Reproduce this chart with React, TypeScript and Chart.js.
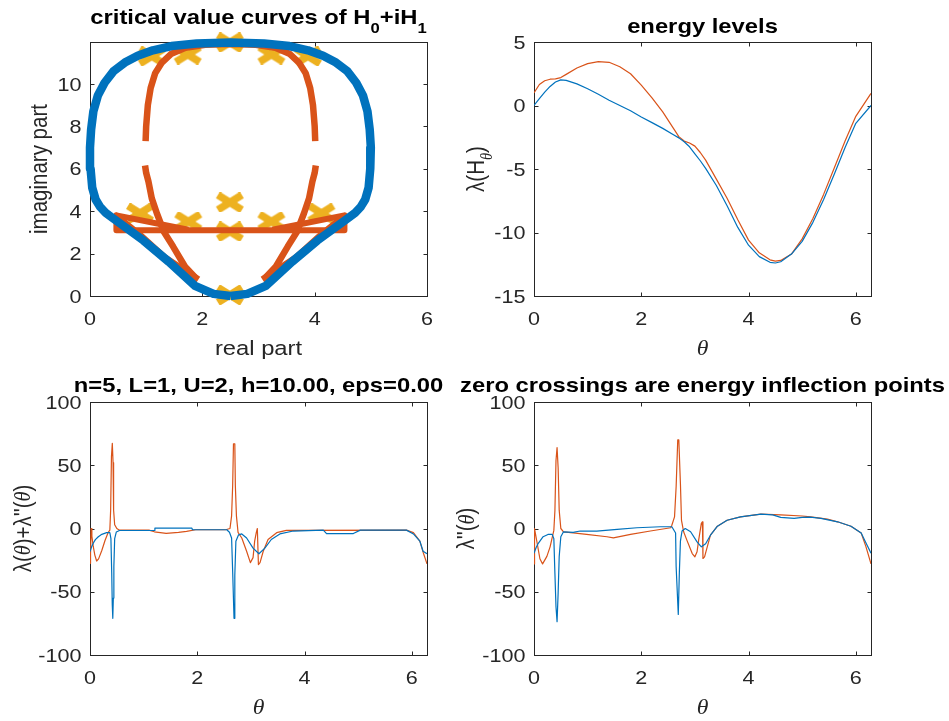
import React, { useEffect, useRef } from 'react';
import { Chart, registerables } from 'chart.js';

Chart.register(...registerables);

const W = 949;
const H = 721;
const SX = 1.16; // horizontal stretch of the reference's text
const SANS = '"Liberation Sans", Arial, Helvetica, sans-serif';
const SERIF = '"Liberation Serif", "Times New Roman", serif';
const BLUE = '#0072BD';
const RED = '#D95319';
const YELLOW = '#EDB120';
const AXIS = '#262626';
const TICK = 4;

// ---------- Panel 1: critical value curves ----------
const blueRe = [2.50, 2.20, 1.87, 1.40, 0.95, 0.65, 0.40, 0.28, 0.18, 0.10, 0.04, 0.01, 0.00, 0.02, 0.06, 0.14, 0.26, 0.42, 0.62, 0.85, 1.12, 1.45, 1.90, 2.50, 3.10, 3.55, 3.88, 4.15, 4.38, 4.58, 4.74, 4.86, 4.94, 4.98, 5.00, 4.99, 4.96, 4.90, 4.82, 4.72, 4.60, 4.35, 4.05, 3.60, 3.13, 2.80, 2.50];
const blueIm = [0.00, 0.10, 0.48, 1.62, 2.62, 3.20, 3.68, 3.92, 4.20, 4.55, 5.10, 6.00, 7.00, 7.85, 8.70, 9.45, 10.05, 10.60, 11.00, 11.32, 11.58, 11.78, 11.90, 11.95, 11.90, 11.78, 11.58, 11.32, 11.00, 10.60, 10.05, 9.45, 8.70, 7.85, 7.00, 6.00, 5.10, 4.55, 4.20, 3.92, 3.68, 3.20, 2.62, 1.62, 0.48, 0.10, 0.00];

const redArchRe = [0.99, 1.00, 1.03, 1.08, 1.16, 1.28, 1.45, 1.70, 2.05, 2.50, 2.95, 3.30, 3.55, 3.72, 3.84, 3.92, 3.97, 4.00, 4.01];
const redArchIm = [7.30, 8.00, 9.00, 9.80, 10.50, 11.00, 11.42, 11.70, 11.84, 11.88, 11.84, 11.70, 11.42, 11.00, 10.50, 9.80, 9.00, 8.00, 7.30];
const redLowLRe = [0.98, 1.00, 1.04, 1.10, 1.19, 1.32, 1.48, 1.69, 1.90];
const redLowRRe = [4.02, 4.00, 3.96, 3.90, 3.81, 3.68, 3.52, 3.31, 3.10];
const redLowIm = [6.15, 5.80, 5.40, 4.60, 3.90, 3.00, 2.33, 1.39, 0.80];
const redDiagLRe = [0.47, 0.90, 1.34, 1.93];
const redDiagRRe = [4.53, 4.10, 3.66, 3.07];
const redDiagIm = [3.78, 2.85, 1.80, 0.78];
const redBarRe = [1.75, 0.47, 0.47, 4.53, 4.53, 3.25];
const redBarIm = [3.12, 3.80, 3.10, 3.10, 3.80, 3.12];

const markRe = [1.10, 1.74, 2.49, 3.23, 3.88, 0.89, 1.75, 2.49, 2.49, 3.23, 4.12, 2.49];
const markIm = [11.30, 11.38, 11.95, 11.38, 11.30, 3.90, 3.51, 4.41, 3.04, 3.51, 3.90, 0.05];

// ---------- Panel 2: energy levels ----------
const thetaE = [0, 0.1, 0.2, 0.3, 0.4, 0.5, 0.6, 0.8, 1.0, 1.2, 1.4, 1.6, 1.8, 2.0, 2.2, 2.4, 2.6, 2.7, 2.8, 2.9, 3.0, 3.1, 3.2, 3.4, 3.6, 3.8, 4.0, 4.2, 4.4, 4.5, 4.6, 4.8, 5.0, 5.2, 5.4, 5.6, 5.8, 6.0, 6.2832];
const level1 = [0.0, 0.55, 1.05, 1.5, 1.85, 2.02, 1.98, 1.7, 1.32, 0.88, 0.42, 0.0, -0.42, -0.9, -1.35, -1.8, -2.3, -2.55, -2.85, -3.25, -3.8, -4.35, -4.95, -6.3, -7.9, -9.6, -11.0, -11.9, -12.35, -12.4, -12.3, -11.7, -10.7, -9.2, -7.4, -5.4, -3.3, -1.4, 0.0];
const level2 = [1.0, 1.65, 1.95, 2.07, 2.1, 2.2, 2.45, 2.95, 3.3, 3.45, 3.4, 3.05, 2.5, 1.6, 0.6, -0.5, -1.8, -2.45, -2.8, -2.95, -3.2, -3.7, -4.3, -5.8, -7.3, -9.0, -10.6, -11.6, -12.15, -12.25, -12.2, -11.7, -10.5, -8.9, -7.0, -4.9, -2.8, -0.85, 0.95];

// ---------- Panel 3: lambda + lambda'' ----------
const t3Blue = [0.00, 0.03, 0.06, 0.10, 0.155, 0.22, 0.31, 0.37, 0.39, 0.405, 0.415, 0.425, 0.435, 0.445, 0.46, 0.49, 0.55, 1.20, 1.21, 1.90, 1.91, 2.55, 2.60, 2.64, 2.66, 2.685, 2.70, 2.72, 2.77, 2.83, 2.92, 3.04, 3.15, 3.26, 3.38, 3.54, 3.79, 4.35, 4.41, 4.91, 5.04, 5.90, 6.03, 6.15, 6.21, 6.2832];
const v3Blue = [-18.3, -14.5, -11.7, -8.8, -6.5, -4.6, -3.3, -3.3, -8, -35, -60, -71, -55, -30, -8, -2.8, -1.6, -1.6, 0.3, 0.3, -1.0, -1.0, -3.0, -7.5, -34, -71, -37, -10, -5, -4.3, -7.5, -15.5, -20, -15.5, -8.7, -4.3, -2, -1.3, -4, -4, -1.3, -1.3, -4.3, -10, -18, -20];
const t3Red = [0.00, 0.01, 0.02, 0.035, 0.06, 0.09, 0.124, 0.16, 0.22, 0.28, 0.34, 0.37, 0.385, 0.40, 0.416, 0.43, 0.44, 0.46, 0.50, 0.55, 1.10, 1.20, 1.42, 1.65, 1.80, 1.97, 2.53, 2.61, 2.64, 2.66, 2.675, 2.70, 2.71, 2.73, 2.76, 2.83, 2.92, 2.99, 3.04, 3.07, 3.10, 3.12, 3.14, 3.17, 3.23, 3.32, 3.48, 3.66, 5.90, 6.03, 6.15, 6.22, 6.2832];
const v3Red = [-27.5, -20, 0, -6, -14, -21, -25.7, -24, -17.4, -9.5, -3, -1.3, 14.6, 56.8, 67.3, 52, 14.6, 3, 0, -1.3, -1.3, -2.6, -3.8, -3, -2.3, -1.0, -1.0, 0, 10, 34, 67, 67, 34, 10, -3, -7.5, -18, -27, -23, -10, -3.3, 0, -28.5, -27, -18, -8.7, -3.3, -1.5, -1.3, -3.3, -10, -20, -28];

// ---------- Panel 4: lambda'' ----------
const t4Blue = [0, 0.04, 0.08, 0.17, 0.26, 0.34, 0.37, 0.39, 0.41, 0.43, 0.45, 0.47, 0.50, 0.55, 0.73, 0.86, 1.17, 1.55, 1.92, 2.36, 2.57, 2.64, 2.65, 2.69, 2.71, 2.73, 2.76, 2.82, 2.92, 3.04, 3.12, 3.20, 3.29, 3.42, 3.60, 3.85, 4.23, 4.45, 4.60, 4.85, 5.00, 5.15, 5.35, 5.66, 5.91, 6.10, 6.19, 6.2832];
const v4Blue = [-19.6, -15, -11.7, -6.5, -4.7, -4.7, -8, -35.6, -61.8, -73.7, -51, -22, -6.5, -2.6, -3, -2, -2, -0.7, 0.6, 1.4, 1.4, -3.6, -30, -68, -35, -10, -2, 0, -2.6, -10.6, -14.5, -12, -5.3, 1.8, 6.5, 9.2, 11.3, 10.8, 8.8, 8.0, 8.8, 9.0, 8.0, 5.3, 1.8, -3.6, -11.5, -19.5];
const t4Red = [0, 0.01, 0.05, 0.11, 0.16, 0.24, 0.30, 0.37, 0.39, 0.41, 0.43, 0.45, 0.47, 0.50, 0.55, 0.73, 0.98, 1.36, 1.48, 1.80, 2.17, 2.55, 2.57, 2.62, 2.65, 2.68, 2.70, 2.73, 2.75, 2.79, 2.85, 2.95, 3.00, 3.04, 3.07, 3.12, 3.14, 3.15, 3.18, 3.23, 3.29, 3.42, 3.60, 3.85, 4.23, 4.60, 5.00, 5.16, 5.47, 5.66, 5.91, 6.10, 6.19, 6.2832];
const v4Red = [-28, 0, -9.5, -23.9, -28, -22, -14.5, -1.5, 14.3, 53.7, 64, 48, 14.3, 0, -2.6, -3.5, -4.7, -6.5, -7.4, -4.7, -2.0, 0.6, 2.6, 9.2, 33, 70, 70, 35.6, 6.5, -2.6, -9.2, -19.8, -22.4, -18.4, -9.2, 4, 5.3, -23.7, -22.4, -14.5, -5.3, 1.8, 6.5, 9.2, 11.3, 10.8, 9.9, 9.2, 7.4, 5.3, 1.8, -3.6, -14.5, -28];

// ---------- ticks ----------
const ticksX1 = [0, 2, 4, 6];
const ticksY1 = [0, 2, 4, 6, 8, 10];
const ticksTheta = [0, 2, 4, 6];
const ticksY2 = [-15, -10, -5, 0, 5];
const ticksY3 = [-100, -50, 0, 50, 100];

type Seg = { t: string; sub?: boolean; it?: boolean };

const pts = (xs: number[], ys: number[]) => xs.map((x, i) => ({ x, y: ys[i] }));

function segFont(s: Seg, size: number, bold: boolean) {
  const sz = s.sub ? size * 0.7 : size;
  if (s.it) return `italic ${bold ? 'bold ' : ''}${sz}px ${SERIF}`;
  return `${bold ? 'bold ' : ''}${sz}px ${SANS}`;
}

function drawRich(ctx: CanvasRenderingContext2D, segs: Seg[], x: number, y: number, size: number, bold: boolean, align: string, rotate: boolean, color: string) {
  ctx.save();
  ctx.translate(x, y);
  if (rotate) {
    ctx.rotate(-Math.PI / 2);
    ctx.scale(1, SX);
  } else {
    ctx.scale(SX, 1);
  }
  ctx.fillStyle = color;
  ctx.textAlign = 'left';
  ctx.textBaseline = rotate ? 'middle' : 'alphabetic';
  let total = 0;
  const widths = segs.map((s) => {
    ctx.font = segFont(s, size, bold);
    const w = ctx.measureText(s.t).width;
    total += w;
    return w;
  });
  let cx = align === 'center' ? -total / 2 : align === 'right' ? -total : 0;
  segs.forEach((s, i) => {
    ctx.font = segFont(s, size, bold);
    ctx.fillText(s.t, cx, s.sub ? size * 0.45 : 0);
    cx += widths[i];
  });
  ctx.restore();
}

interface PanelCfg {
  pad: { left: number; top: number; right: number; bottom: number };
  xMin: number; xMax: number; yMin: number; yMax: number;
  xTicks: number[]; yTicks: number[];
  title: Seg[]; titleY: number;
  xLabel: Seg[]; yLabel: Seg[]; yLabelX: number;
  datasets: any[];
}

function axesPlugin(cfg: PanelCfg) {
  return {
    id: 'matlabAxes',
    beforeDatasetsDraw(chart: any) {
      const ctx = chart.ctx as CanvasRenderingContext2D;
      const a = chart.chartArea;
      const xs = chart.scales.x;
      const ys = chart.scales.y;
      const L = Math.round(a.left) + 0.5;
      const R = Math.round(a.right) + 0.5;
      const T = Math.round(a.top) + 0.5;
      const B = Math.round(a.bottom) + 0.5;
      ctx.save();
      ctx.strokeStyle = AXIS;
      ctx.lineWidth = 1;
      ctx.strokeRect(L, T, R - L, B - T);
      ctx.beginPath();
      cfg.xTicks.forEach((v) => {
        const p = Math.round(xs.getPixelForValue(v)) + 0.5;
        ctx.moveTo(p, B); ctx.lineTo(p, B - TICK);
        ctx.moveTo(p, T); ctx.lineTo(p, T + TICK);
      });
      cfg.yTicks.forEach((v) => {
        const p = Math.round(ys.getPixelForValue(v)) + 0.5;
        ctx.moveTo(L, p); ctx.lineTo(L + TICK, p);
        ctx.moveTo(R, p); ctx.lineTo(R - TICK, p);
      });
      ctx.stroke();
      ctx.restore();
    },
    afterDraw(chart: any) {
      const ctx = chart.ctx as CanvasRenderingContext2D;
      const a = chart.chartArea;
      const xs = chart.scales.x;
      const ys = chart.scales.y;
      const tickSize = 18.6;
      const labelSize = 20.5;
      cfg.xTicks.forEach((v) => {
        drawRich(ctx, [{ t: String(v) }], xs.getPixelForValue(v), a.bottom + 28.5, tickSize, false, 'center', false, AXIS);
      });
      cfg.yTicks.forEach((v) => {
        drawRich(ctx, [{ t: String(v) }], a.left - 8.5, ys.getPixelForValue(v) + 6.7, tickSize, false, 'right', false, AXIS);
      });
      const cxm = (a.left + a.right) / 2;
      const cym = (a.top + a.bottom) / 2;
      drawRich(ctx, cfg.xLabel, cxm, a.bottom + 58.5, labelSize, false, 'center', false, AXIS);
      drawRich(ctx, cfg.yLabel, cfg.yLabelX, cym, labelSize, false, 'center', true, AXIS);
      drawRich(ctx, cfg.title, cxm, cfg.titleY, labelSize, true, 'center', false, '#000000');
    },
  };
}

function makeXMarker() {
  const c = document.createElement('canvas');
  c.width = 30;
  c.height = 20;
  const g = c.getContext('2d')!;
  g.strokeStyle = YELLOW;
  g.lineWidth = 7.5;
  g.lineCap = 'butt';
  g.beginPath();
  g.moveTo(3, 2.5); g.lineTo(27, 17.5);
  g.moveTo(3, 17.5); g.lineTo(27, 2.5);
  g.stroke();
  return c;
}

const thick = (data: any[], color: string, width: number) => ({
  data, showLine: true, borderColor: color, backgroundColor: color, borderWidth: width,
  pointRadius: 0, borderJoinStyle: 'round', borderCapStyle: 'butt', clip: false, tension: 0,
});
const thin = (data: any[], color: string) => ({
  data, showLine: true, borderColor: color, backgroundColor: color, borderWidth: 1.2,
  pointRadius: 0, borderJoinStyle: 'round', tension: 0,
});

const TH: Seg = { t: 'θ', it: true };

function buildPanels(): PanelCfg[] {
  const xMark = makeXMarker();
  return [
    {
      pad: { left: 90, top: 42, right: W - 427, bottom: H - 296 },
      xMin: 0, xMax: 6, yMin: 0, yMax: 11.97,
      xTicks: ticksX1, yTicks: ticksY1,
      title: [{ t: 'critical value curves of H' }, { t: '0', sub: true }, { t: '+iH' }, { t: '1', sub: true }],
      titleY: 23.8,
      xLabel: [{ t: 'real part' }], yLabel: [{ t: 'imaginary part' }], yLabelX: 40,
      datasets: [
        thick(pts(blueRe, blueIm), BLUE, 8.5),
        thick(pts(redArchRe, redArchIm), RED, 6.5),
        thick(pts(redLowLRe, redLowIm), RED, 6.5),
        thick(pts(redLowRRe, redLowIm), RED, 6.5),
        thick(pts(redDiagLRe, redDiagIm), RED, 6.5),
        thick(pts(redDiagRRe, redDiagIm), RED, 6.5),
        thick(pts(redBarRe, redBarIm), RED, 6),
        { data: pts(markRe, markIm), showLine: false, pointStyle: xMark, pointRadius: 8, clip: false },
      ],
    },
    {
      pad: { left: 534, top: 42, right: W - 871, bottom: H - 296 },
      xMin: 0, xMax: 6.2832, yMin: -15, yMax: 5,
      xTicks: ticksTheta, yTicks: ticksY2,
      title: [{ t: 'energy levels' }], titleY: 32.5,
      xLabel: [TH], yLabel: [{ t: 'λ(H' }, { t: 'θ', it: true, sub: true }, { t: ')' }], yLabelX: 477,
      datasets: [thin(pts(thetaE, level1), BLUE), thin(pts(thetaE, level2), RED)],
    },
    {
      pad: { left: 90, top: 402, right: W - 427, bottom: H - 655 },
      xMin: 0, xMax: 6.2832, yMin: -100, yMax: 100,
      xTicks: ticksTheta, yTicks: ticksY3,
      title: [{ t: 'n=5, L=1, U=2, h=10.00, eps=0.00' }], titleY: 391.7,
      xLabel: [TH], yLabel: [{ t: 'λ(' }, TH, { t: ')+λ\'\'(' }, TH, { t: ')' }], yLabelX: 24,
      datasets: [thin(pts(t3Blue, v3Blue), BLUE), thin(pts(t3Red, v3Red), RED)],
    },
    {
      pad: { left: 534, top: 402, right: W - 871, bottom: H - 655 },
      xMin: 0, xMax: 6.2832, yMin: -100, yMax: 100,
      xTicks: ticksTheta, yTicks: ticksY3,
      title: [{ t: 'zero crossings are energy inflection points' }], titleY: 391.7,
      xLabel: [TH], yLabel: [{ t: 'λ\'\'(' }, TH, { t: ')' }], yLabelX: 467.5,
      datasets: [thin(pts(t4Blue, v4Blue), BLUE), thin(pts(t4Red, v4Red), RED)],
    },
  ];
}

function Panel({ cfg }: { cfg: PanelCfg }) {
  const ref = useRef<HTMLCanvasElement>(null);
  useEffect(() => {
    if (!ref.current) return;
    const chart = new Chart(ref.current, {
      type: 'scatter',
      data: { datasets: cfg.datasets },
      options: {
        animation: false,
        responsive: false,
        devicePixelRatio: 1,
        events: [],
        layout: { padding: cfg.pad },
        plugins: { legend: { display: false }, tooltip: { enabled: false }, title: { display: false } },
        scales: {
          x: { type: 'linear', display: false, min: cfg.xMin, max: cfg.xMax },
          y: { type: 'linear', display: false, min: cfg.yMin, max: cfg.yMax },
        },
      } as any,
      plugins: [axesPlugin(cfg) as any],
    });
    return () => chart.destroy();
  }, [cfg]);
  return (
    <canvas
      ref={ref}
      width={W}
      height={H}
      style={{ position: 'absolute', left: 0, top: 0, width: W, height: H }}
    />
  );
}

const panels = buildPanels();

export default function App() {
  return (
    <div style={{ position: 'fixed', left: 0, top: 0, width: W, height: H, background: '#ffffff', overflow: 'hidden' }}>
      {panels.map((p, i) => (
        <Panel key={i} cfg={p} />
      ))}
    </div>
  );
}
